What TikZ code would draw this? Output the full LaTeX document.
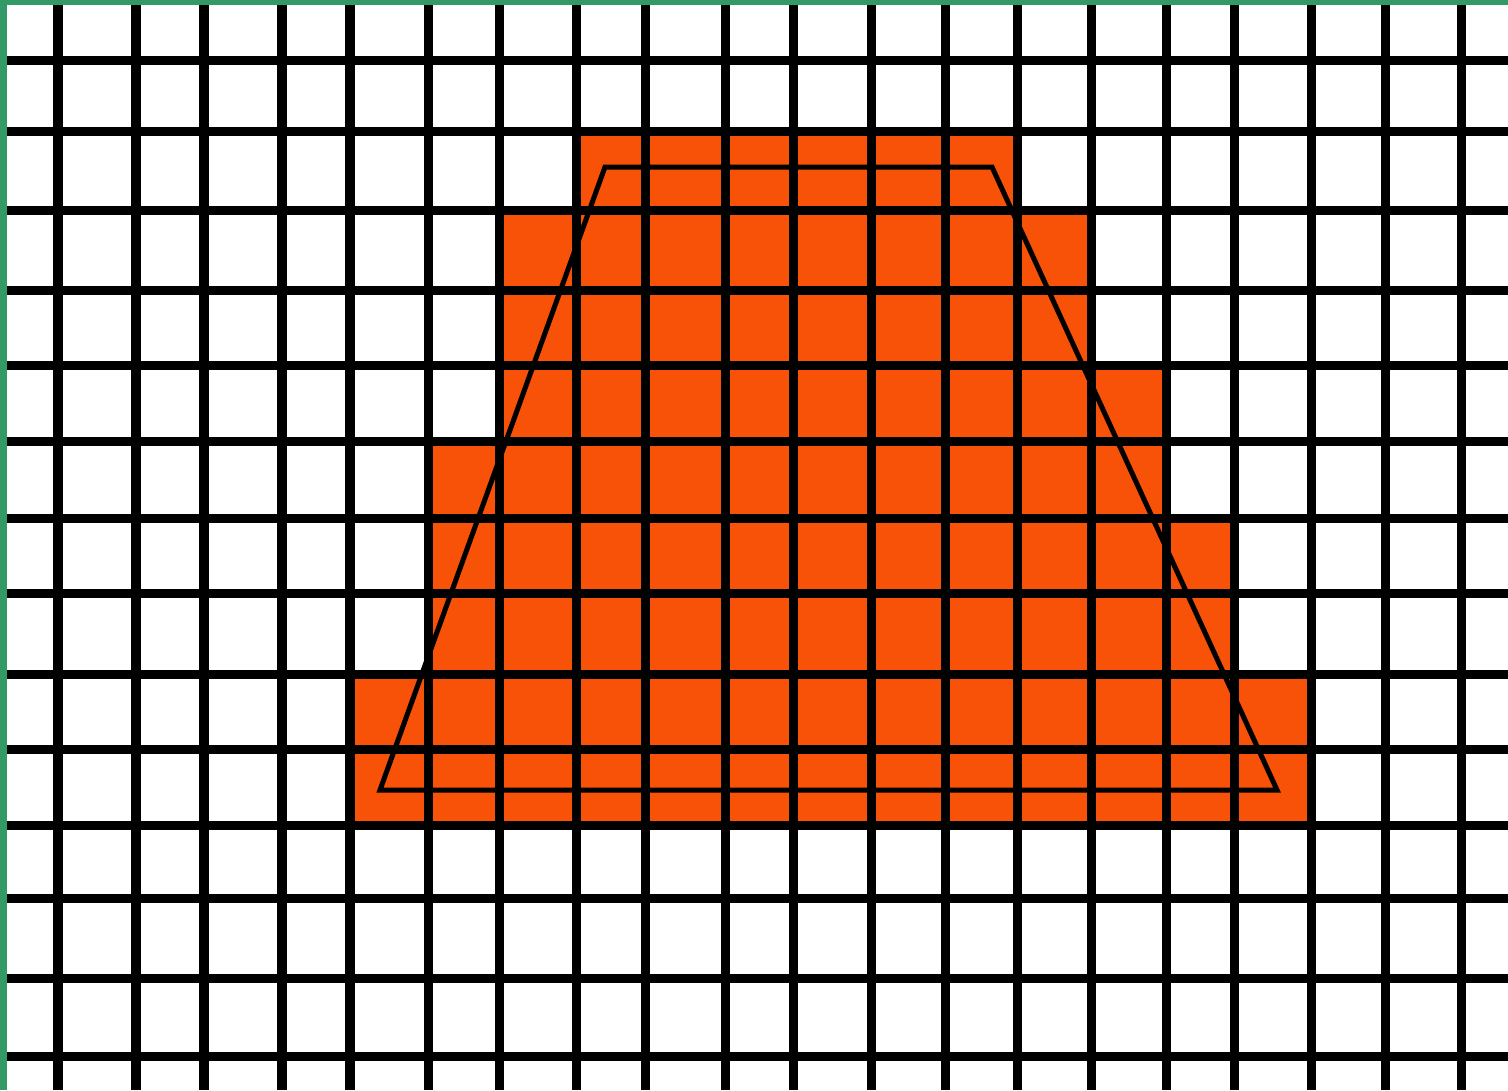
\documentclass[tikz,border=0pt]{standalone}

\definecolor{cellorange}{RGB}{248,81,8}
\definecolor{framegreen}{RGB}{51,153,102}
\tikzset{gridline/.style = {draw=black, line width=0.09cm}}

\begin{document}
\begin{tikzpicture}[x=0.01cm, y=-0.01cm]
            % Define styles
            \tikzstyle{cell} = [fill=cellorange]
            \tikzstyle{outline} = [draw=black, line width=0.05cm, line join=miter]
            
            \useasboundingbox (0,0) rectangle (1508,1090);
            \fill[white] (0,0) rectangle (1508,1090);
            
            % Filled cells (top, bottom, left, right)
            \foreach \ya/\yb/\xa/\xb in {131/210/576/1017, 210/365/499/1091, 365/441/499/1166,
                                         441/518/428/1166, 518/674/428/1234, 674/825/350/1311}
                \fill[cell] (\xa,\ya) rectangle (\xb,\yb);
            
            % Vertical grid lines
            \foreach \x in {58,136,204,282,350,428,499,576,645,725,793,871,945,1017,1091,1166,1234,1311,1385,1461}
                \draw[gridline] (\x,0) -- (\x,1090);
            
            % Horizontal grid lines
            \foreach \y in {60,131,210,290,365,441,518,593,674,749,825,898,978,1056}
                \draw[gridline] (0,\y) -- (1508,\y);
            
            % Trapezoid corners
            \coordinate (tl) at (605,167);
            \coordinate (tr) at (992,167);
            \coordinate (br) at (1277,790);
            \coordinate (bl) at (380,790);
            
            % Trapezoid outline
            \draw[outline] (tl) -- (tr) -- (br) -- (bl) -- cycle;
            
            % Green frame on top and left edge
            \fill[framegreen] (0,0) rectangle (1508,5);
            \fill[framegreen] (0,0) rectangle (7,1090);
            
        \end{tikzpicture}
\end{document}
